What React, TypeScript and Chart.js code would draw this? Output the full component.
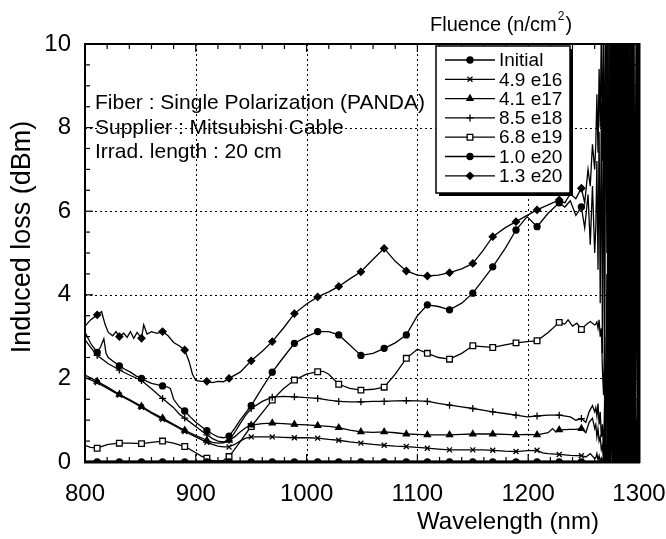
import React, { useEffect, useRef } from 'react';
import { Chart, registerables } from 'chart.js';
import { drawPoint } from 'chart.js/helpers';

Chart.register(...registerables);

const FONT = '"Liberation Sans", Arial, Helvetica, sans-serif';

// ---- data ----
const SERIES_LABELS = ['Initial', '4.9 e16', '4.1 e17', '8.5 e18', '6.8 e19', '1.0 e20', '1.3 e20'];
const POINT_STYLES = ['circle', 'crossRot', 'triangle', 'cross', 'rect', 'circle', 'rectRot'];
const POINT_FILLS = ['#000', '#000', '#000', '#000', '#fff', '#000', '#000'];
const POINT_RADII = [3, 3.5, 3.5, 3.5, 4, 3, 3.5];
const MARKER_WL = [811, 831, 851, 870, 890, 910, 930, 950, 969, 989, 1010, 1029, 1049, 1070, 1090, 1109, 1129, 1150, 1168, 1189, 1208, 1228, 1248];
const INITIAL_EXTRA_MARKERS = [1268, 1288];
const X_TICKS = [800, 900, 1000, 1100, 1200, 1300];
const Y_TICKS = [0, 2, 4, 6, 8, 10];
const X_GRID = [900, 1000, 1100, 1200];
const Y_GRID = [2, 4, 6, 8];

const S_INITIAL = [
  [800, 0], [811, 0], [831, 0], [851, 0], [870, 0], [890, 0], [910, 0], [930, 0], [950, 0], [969, 0], [989, 0],
  [1010, 0], [1029, 0], [1049, 0], [1070, 0], [1090, 0], [1109, 0], [1129, 0], [1150, 0], [1168, 0], [1189, 0],
  [1208, 0], [1228, 0], [1248, 0], [1268, 0], [1270, 0.4], [1271, 0], [1273, 1.5], [1274, 0], [1276, 3.5], [1277, 0],
  [1279, 6.5], [1280, 0], [1282, 11], [1283, 0], [1285, 11], [1286, 0], [1288, 0], [1289, 11], [1290, 0], [1292, 9],
  [1293, 0], [1295, 11], [1296, 0], [1298, 11], [1299, 0], [1300, 0],
];

const S_4_9E16 = [
  [800, 2.02], [811, 1.9], [821, 1.75], [831, 1.6], [841, 1.46], [851, 1.31], [860, 1.17], [870, 1.02], [880, 0.88],
  [890, 0.73], [900, 0.6], [910, 0.47], [915, 0.42], [920, 0.38], [925, 0.36], [930, 0.36], [935, 0.42], [940, 0.5],
  [945, 0.57], [950, 0.6], [960, 0.6], [969, 0.6], [979, 0.59], [989, 0.58], [1000, 0.58], [1010, 0.57], [1020, 0.54],
  [1029, 0.52], [1039, 0.48], [1049, 0.45], [1060, 0.42], [1070, 0.4], [1080, 0.38], [1090, 0.37], [1100, 0.35],
  [1109, 0.33], [1119, 0.31], [1129, 0.29], [1140, 0.29], [1150, 0.29], [1159, 0.29], [1168, 0.28], [1179, 0.26],
  [1189, 0.25], [1199, 0.27], [1208, 0.28], [1213, 0.22], [1218, 0.2], [1228, 0.18], [1238, 0.16], [1248, 0.15],
  [1252, 0.12], [1256, 0.2], [1260, 0.08],
  [1261, 0.1], [1262, 0.2], [1263, 0.05], [1264, 0.15], [1265, 0], [1266, 0.1], [1268, 0], [1270, 0.2], [1272, 0],
  [1275, 0.6], [1276, 0], [1278, 2], [1279, 0], [1281, 5], [1282, 0], [1284, 9], [1285, 0], [1287, 11], [1288, 0],
  [1290, 10], [1291, 0], [1293, 5], [1294, 0], [1297, 0.5], [1298, 0], [1300, 0],
];

const S_4_1E17 = [
  [800, 2.08], [811, 1.93], [821, 1.78], [831, 1.62], [841, 1.48], [851, 1.33], [860, 1.19], [870, 1.05], [880, 0.9],
  [890, 0.76], [900, 0.63], [910, 0.52], [915, 0.47], [920, 0.45], [925, 0.46], [930, 0.52], [935, 0.6], [940, 0.72],
  [945, 0.82], [950, 0.88], [960, 0.92], [969, 0.93], [979, 0.92], [989, 0.9], [1000, 0.89], [1010, 0.87], [1020, 0.85],
  [1029, 0.82], [1039, 0.76], [1049, 0.72], [1060, 0.71], [1070, 0.72], [1080, 0.7], [1090, 0.67], [1100, 0.66],
  [1109, 0.65], [1119, 0.65], [1129, 0.65], [1140, 0.66], [1150, 0.67], [1159, 0.67], [1168, 0.67], [1179, 0.66],
  [1189, 0.65], [1199, 0.66], [1208, 0.65], [1218, 0.7], [1222, 0.8], [1225, 0.72], [1228, 0.77], [1238, 0.78],
  [1243, 0.78], [1248, 0.8], [1252, 0.7], [1255, 0.95], [1258, 1.05], [1260, 0.8],
  [1261, 0.9], [1262, 0.6], [1263, 0.8], [1264, 0.5], [1265, 0.6], [1266, 0.3], [1267, 0.4], [1268, 0], [1269, 0.8],
  [1270, 0], [1272, 0.3], [1274, 0], [1276, 1.5], [1277, 0], [1279, 4], [1280, 0], [1282, 7], [1283, 0], [1285, 11],
  [1286, 0], [1288, 11], [1289, 0], [1291, 8], [1292, 0], [1294, 1], [1295, 0], [1298, 0.3], [1300, 0],
];

const S_8_5E18 = [
  [800, 2.92], [805, 2.75], [811, 2.55], [816, 2.45], [821, 2.35], [826, 2.28], [831, 2.2], [841, 2.07], [851, 1.95],
  [860, 1.75], [870, 1.52], [880, 1.3], [885, 1.15], [890, 1.05], [900, 0.85], [905, 0.75], [910, 0.65], [915, 0.56],
  [920, 0.5], [925, 0.48], [930, 0.52], [935, 0.7], [940, 0.92], [945, 1.12], [950, 1.28], [960, 1.45], [969, 1.55],
  [979, 1.57], [989, 1.56], [1000, 1.54], [1010, 1.52], [1020, 1.48], [1029, 1.45], [1039, 1.44], [1049, 1.44],
  [1060, 1.45], [1070, 1.45], [1080, 1.46], [1090, 1.47], [1100, 1.46], [1109, 1.45], [1119, 1.4], [1129, 1.36],
  [1140, 1.32], [1150, 1.28], [1159, 1.24], [1168, 1.2], [1179, 1.16], [1189, 1.12], [1199, 1.08], [1208, 1.1],
  [1218, 1.12], [1228, 1.12], [1238, 1.08], [1243, 1.0], [1248, 1.04], [1252, 0.95], [1255, 1.2], [1258, 1.35],
  [1260, 1.2],
  [1261, 1.3], [1262, 1.1], [1263, 1.4], [1264, 0.9], [1265, 1.2], [1266, 0.6], [1267, 0.9], [1268, 0.2], [1269, 1.5],
  [1270, 0], [1271, 2.5], [1272, 0], [1273, 5], [1274, 0], [1275, 11], [1276, 0.5], [1277, 11], [1278, 0], [1279, 11],
  [1280, 0], [1281, 11], [1282, 0], [1283, 11], [1284, 0], [1285, 11], [1286, 0], [1287, 11], [1288, 0], [1289, 11],
  [1290, 0], [1291, 9], [1292, 0], [1293, 6], [1294, 0], [1295, 1], [1296, 0], [1300, 0],
];

const S_6_8E19 = [
  [800, 0.4], [805, 0.35], [811, 0.33], [816, 0.38], [821, 0.42], [831, 0.45], [841, 0.45], [851, 0.44], [860, 0.47],
  [870, 0.5], [880, 0.45], [890, 0.37], [895, 0.3], [900, 0.22], [905, 0.14], [910, 0.09], [915, 0.03], [920, 0.02],
  [925, 0.04], [930, 0.13], [935, 0.3], [940, 0.48], [945, 0.67], [950, 0.85], [960, 1.18], [969, 1.48], [979, 1.75],
  [989, 1.96], [1000, 2.1], [1010, 2.16], [1015, 2.17], [1020, 2.1], [1029, 1.86], [1039, 1.76], [1049, 1.72],
  [1060, 1.74], [1070, 1.79], [1080, 2.1], [1090, 2.48], [1100, 2.7], [1109, 2.6], [1119, 2.5], [1129, 2.46],
  [1140, 2.6], [1150, 2.78], [1159, 2.76], [1168, 2.74], [1179, 2.8], [1189, 2.85], [1199, 2.88], [1208, 2.9],
  [1218, 3.1], [1228, 3.34], [1233, 3.3], [1236, 3.4], [1240, 3.25], [1244, 3.32], [1248, 3.17], [1252, 3.28],
  [1256, 3.36], [1260, 3.28],
  [1261, 3.3], [1262, 3.35], [1263, 3.2], [1264, 3.4], [1265, 3.0], [1266, 3.2], [1267, 2.2], [1268, 1.6], [1269, 3.0],
  [1270, 0.4], [1271, 4.5], [1272, 0], [1273, 7], [1274, 0], [1275, 11], [1276, 0], [1277, 11], [1278, 0], [1279, 11],
  [1280, 0], [1281, 11], [1282, 0], [1283, 11], [1284, 0], [1285, 11], [1286, 0], [1287, 11], [1288, 0], [1289, 11],
  [1290, 0], [1291, 11], [1292, 0], [1293, 10], [1294, 0], [1296, 0.5], [1298, 0], [1300, 0],
];

const S_1_0E20 = [
  [800, 3.1], [803, 2.95], [806, 2.8], [809, 2.7], [811, 2.62], [814, 2.75], [817, 2.95], [819, 2.6], [821, 2.5],
  [826, 2.4], [831, 2.3], [836, 2.22], [841, 2.15], [846, 2.06], [851, 2.0], [856, 1.93], [860, 1.88], [865, 1.85],
  [870, 1.82], [874, 1.8], [877, 1.76], [880, 1.5], [885, 1.32], [890, 1.22], [895, 1.08], [900, 0.95], [905, 0.85],
  [910, 0.75], [915, 0.67], [920, 0.6], [925, 0.58], [930, 0.62], [935, 0.8], [940, 1.0], [950, 1.35], [960, 1.78],
  [969, 2.15], [979, 2.5], [989, 2.84], [1000, 3.0], [1010, 3.12], [1020, 3.12], [1029, 3.04], [1039, 2.8],
  [1049, 2.55], [1060, 2.6], [1070, 2.72], [1080, 2.85], [1090, 3.04], [1100, 3.5], [1109, 3.76], [1119, 3.72],
  [1129, 3.64], [1140, 3.8], [1150, 4.04], [1159, 4.35], [1168, 4.67], [1179, 5.1], [1189, 5.55], [1199, 5.87],
  [1208, 5.63], [1218, 5.95], [1228, 6.2], [1233, 6.1], [1238, 6.25], [1243, 5.9], [1248, 6.1], [1251, 5.6],
  [1254, 6.4], [1256, 5.2], [1258, 6.6], [1260, 5.0],
  [1261, 5.6], [1262, 7.2], [1263, 4.6], [1264, 7.9], [1265, 3.8], [1266, 8.6], [1267, 2.6], [1268, 9.4], [1269, 1.3],
  [1270, 10.6], [1271, 11], [1272, 0], [1273, 11], [1274, 0], [1275, 11], [1276, 0], [1277, 11], [1278, 0], [1279, 11],
  [1280, 0], [1281, 11], [1282, 0], [1283, 11], [1284, 0], [1285, 11], [1286, 0], [1287, 11], [1288, 0], [1289, 11],
  [1290, 0], [1291, 11], [1292, 0], [1293, 11], [1294, 1], [1295, 3], [1296, 0.5], [1297, 1.5], [1298, 0.3], [1300, 0],
];

const S_1_3E20 = [
  [800, 3.25], [805, 3.4], [811, 3.52], [815, 3.6], [818, 3.3], [821, 3.1], [825, 3.02], [828, 3.12], [831, 3.0],
  [835, 3.08], [838, 2.98], [841, 3.12], [844, 2.96], [847, 3.1], [851, 2.96], [853, 3.28], [856, 3.06], [860, 3.12],
  [865, 3.08], [870, 3.12], [875, 3.02], [880, 2.86], [885, 2.78], [890, 2.68], [894, 2.4], [897, 2.1], [900, 1.95],
  [905, 1.93], [910, 1.93], [915, 1.9], [920, 1.93], [925, 1.92], [930, 2.0], [940, 2.15], [950, 2.42], [960, 2.65],
  [969, 2.88], [979, 3.2], [989, 3.55], [1000, 3.78], [1010, 3.95], [1020, 4.07], [1029, 4.2], [1039, 4.38],
  [1049, 4.55], [1060, 4.85], [1070, 5.11], [1080, 4.8], [1090, 4.57], [1100, 4.47], [1109, 4.45], [1119, 4.47],
  [1129, 4.53], [1140, 4.62], [1150, 4.75], [1159, 5.05], [1168, 5.39], [1179, 5.6], [1189, 5.75], [1199, 5.9],
  [1208, 6.03], [1218, 6.15], [1228, 6.27], [1233, 6.2], [1238, 6.42], [1243, 6.3], [1248, 6.55], [1251, 6.2],
  [1254, 7.0], [1256, 6.6], [1258, 7.6], [1260, 7.0],
  [1261, 7.6], [1262, 8.8], [1263, 7.4], [1264, 9.4], [1265, 8.0], [1266, 10.4], [1267, 7.2], [1268, 11], [1269, 6.2],
  [1270, 11], [1271, 5.0], [1272, 11], [1273, 3.5], [1274, 11], [1275, 2.0], [1276, 11], [1277, 0.3], [1278, 11],
  [1279, 0], [1280, 11], [1281, 0], [1282, 11], [1283, 0], [1284, 11], [1285, 0], [1286, 11], [1287, 0], [1288, 11],
  [1289, 0], [1290, 11], [1291, 0], [1292, 11], [1293, 0.5], [1294, 3], [1295, 0.5], [1296, 2], [1297, 0], [1298, 1],
  [1299, 0], [1300, 0.5],
];

const SERIES_DATA = [S_INITIAL, S_4_9E16, S_4_1E17, S_8_5E18, S_6_8E19, S_1_0E20, S_1_3E20];

// ---- drawing helpers ----
function seg(ctx: CanvasRenderingContext2D, x1: number, y1: number, x2: number, y2: number) {
  ctx.beginPath();
  ctx.moveTo(x1, y1);
  ctx.lineTo(x2, y2);
  ctx.stroke();
}

const paperPlugin = {
  id: 'paper',
  beforeDatasetsDraw(chart: any) {
    const { ctx, chartArea: a } = chart;
    const xs = chart.scales.x;
    const ys = chart.scales.y;
    ctx.save();
    ctx.strokeStyle = '#000';
    ctx.lineWidth = 1;
    ctx.setLineDash([2, 3]);
    X_GRID.forEach((v) => {
      const p = Math.round(xs.getPixelForValue(v)) + 0.5;
      seg(ctx, p, a.top, p, a.bottom);
    });
    Y_GRID.forEach((v) => {
      const p = Math.round(ys.getPixelForValue(v)) + 0.5;
      seg(ctx, a.left, p, a.right, p);
    });
    ctx.restore();
  },
  afterDatasetsDraw(chart: any) {
    const { ctx, chartArea: a } = chart;
    const xs = chart.scales.x;
    const ys = chart.scales.y;
    ctx.save();
    ctx.strokeStyle = '#000';
    ctx.fillStyle = '#000';
    ctx.setLineDash([]);

    // inward ticks
    ctx.lineWidth = 1.2;
    for (let v = 800; v <= 1300; v += 20) {
      const p = xs.getPixelForValue(v);
      const len = v % 100 === 0 ? 8 : 5;
      seg(ctx, p, a.bottom, p, a.bottom - len);
      seg(ctx, p, a.top, p, a.top + len);
    }
    for (let v = 0; v <= 10; v += 0.5) {
      const p = ys.getPixelForValue(v);
      const len = Math.abs(v % 2) < 1e-9 ? 8 : 5;
      seg(ctx, a.left, p, a.left + len, p);
      seg(ctx, a.right, p, a.right - len, p);
    }

    // frame
    ctx.lineWidth = 2;
    ctx.strokeRect(a.left, a.top, a.right - a.left, a.bottom - a.top);
    ctx.lineWidth = 3;
    seg(ctx, a.left - 1, a.bottom, a.right + 1, a.bottom);
    seg(ctx, a.right, a.top - 1, a.right, a.bottom + 1);

    // annotation text
    ctx.font = `21px ${FONT}`;
    ctx.textBaseline = 'middle';
    ctx.textAlign = 'left';
    ctx.fillText('Fiber : Single Polarization (PANDA)', 95, 103);
    ctx.fillText('Supplier : Mitsubishi Cable', 95, 128);
    ctx.fillText('Irrad. length : 20 cm', 95, 152);

    // legend box
    const bx = 436, by = 46, bw = 134, bh = 147;
    ctx.fillRect(bx + 3, by + 3, bw, bh);
    ctx.fillStyle = '#fff';
    ctx.fillRect(bx, by, bw, bh);
    ctx.lineWidth = 1.5;
    ctx.strokeRect(bx, by, bw, bh);
    ctx.font = `19px ${FONT}`;
    SERIES_LABELS.forEach((label, i) => {
      const yy = 60 + i * 19.3;
      ctx.strokeStyle = '#000';
      ctx.lineWidth = 1.3;
      seg(ctx, 445, yy, 495, yy);
      ctx.fillStyle = POINT_FILLS[i];
      ctx.lineWidth = 1.3;
      drawPoint(ctx, { pointStyle: POINT_STYLES[i], rotation: 0, radius: POINT_RADII[i], borderWidth: 1.3 } as any, 470, yy);
      ctx.fillStyle = '#000';
      ctx.fillText(label, 499, yy + 1);
    });

    // legend title
    ctx.font = `20px ${FONT}`;
    const t1 = 'Fluence (n/cm';
    ctx.fillText(t1, 430, 25);
    const w1 = ctx.measureText(t1).width;
    ctx.font = `12px ${FONT}`;
    ctx.fillText('2', 430 + w1 + 1, 17);
    const w2 = ctx.measureText('2').width;
    ctx.font = `20px ${FONT}`;
    ctx.fillText(')', 430 + w1 + w2 + 2, 25);

    // axis titles
    ctx.font = `24px ${FONT}`;
    ctx.textAlign = 'center';
    ctx.fillText('Wavelength (nm)', 508, 522);
    ctx.save();
    ctx.translate(23, 237);
    ctx.rotate(-Math.PI / 2);
    ctx.font = `27px ${FONT}`;
    ctx.fillText('Induced loss (dBm)', 0, 0);
    ctx.restore();

    ctx.restore();
  },
};

export default function App() {
  const ref = useRef<HTMLCanvasElement>(null);

  useEffect(() => {
    const canvas = ref.current;
    if (!canvas) return;
    const markerSet = new Set(MARKER_WL);
    const initialExtra = new Set(INITIAL_EXTRA_MARKERS);
    const datasets = SERIES_LABELS.map((label, i) => ({
      label,
      data: SERIES_DATA[i].map(([x, y]) => ({ x, y })),
      borderColor: '#000',
      borderWidth: i === 0 ? 2.5 : 1.3,
      backgroundColor: POINT_FILLS[i],
      pointStyle: POINT_STYLES[i],
      pointBackgroundColor: POINT_FILLS[i],
      pointBorderColor: '#000',
      pointBorderWidth: 1.3,
      pointRadius: (c: any) => {
        const raw = c.raw;
        if (!raw) return 0;
        if (markerSet.has(raw.x)) return POINT_RADII[i];
        if (i === 0 && initialExtra.has(raw.x)) return POINT_RADII[i];
        return 0;
      },
      pointHoverRadius: 0,
      tension: 0,
      fill: false,
    }));

    const chart = new Chart(canvas, {
      type: 'line',
      data: { datasets },
      options: {
        responsive: false,
        animation: false,
        devicePixelRatio: 1,
        events: [],
        layout: { padding: { left: 0, right: 27, top: 44, bottom: 0 } },
        plugins: { legend: { display: false }, tooltip: { enabled: false } },
        scales: {
          x: {
            type: 'linear',
            min: 800,
            max: 1300,
            grid: { display: false, drawTicks: false },
            border: { display: false },
            afterBuildTicks: (s: any) => { s.ticks = X_TICKS.map((v) => ({ value: v })); },
            ticks: {
              color: '#000',
              font: { family: FONT, size: 24 },
              padding: 18,
              maxRotation: 0,
              autoSkip: false,
              callback: (v: any) => String(v),
            },
            afterFit: (s: any) => { s.height = 77; s.paddingLeft = 0; s.paddingRight = 0; },
          },
          y: {
            type: 'linear',
            min: 0,
            max: 10,
            grid: { display: false, drawTicks: false },
            border: { display: false },
            afterBuildTicks: (s: any) => { s.ticks = Y_TICKS.map((v) => ({ value: v })); },
            ticks: {
              color: '#000',
              font: { family: FONT, size: 24 },
              padding: 14,
              callback: (v: any) => String(v),
            },
            afterFit: (s: any) => { s.width = 85; s.paddingTop = 0; s.paddingBottom = 0; },
          },
        },
      } as any,
      plugins: [paperPlugin],
    });
    return () => chart.destroy();
  }, []);

  return (
    <div style={{ position: 'absolute', left: 0, top: 0, width: 666, height: 539, background: '#fff' }}>
      <canvas ref={ref} width={666} height={539} style={{ display: 'block', width: 666, height: 539 }} />
    </div>
  );
}
